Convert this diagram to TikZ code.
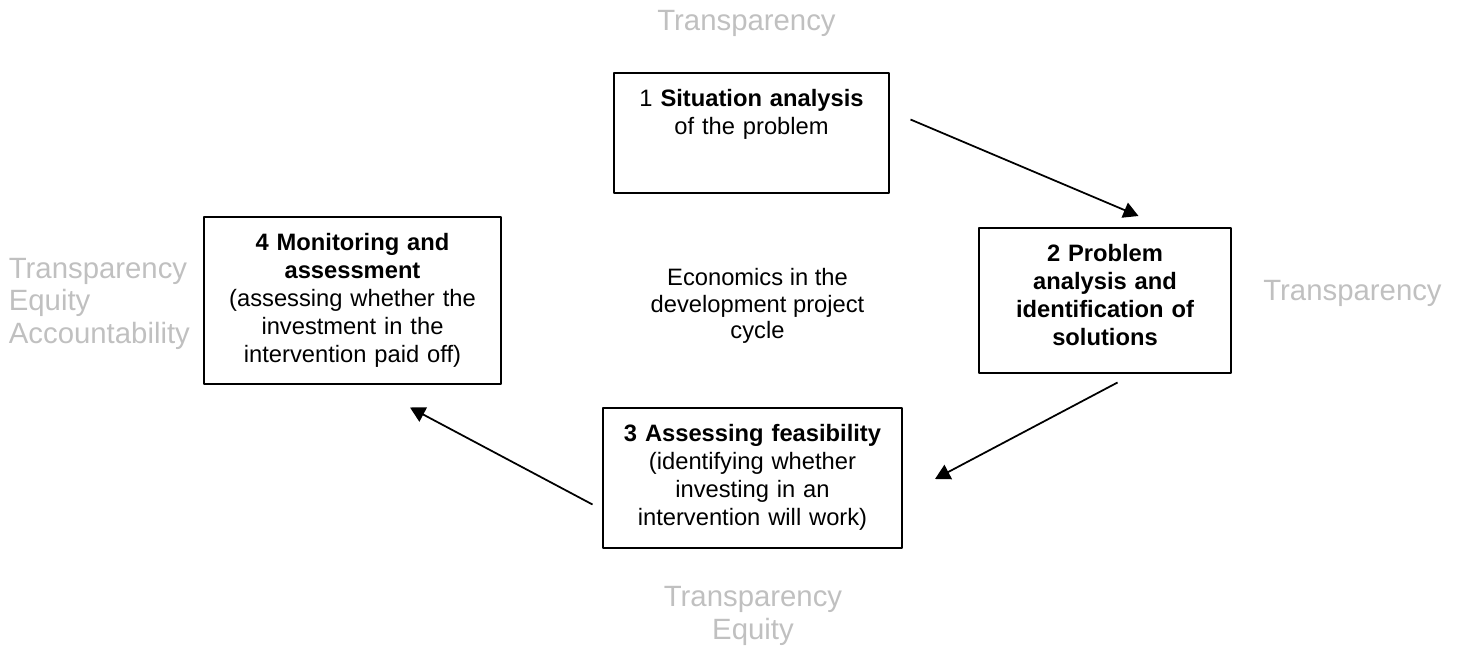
\documentclass[tikz,border=0pt]{standalone}
\usepackage{fontspec}
\setmainfont{Liberation Sans}
\usepackage{tikz}
\usetikzlibrary{arrows.meta}
\definecolor{paleGrey}{RGB}{192,192,192}

\begin{document}
\begin{tikzpicture}[line join=round,
  stage/.style={draw, line width=1.1pt, anchor=north, inner sep=0, align=center, text height=0.68cm, font=\fontsize{13.5}{15.8}\selectfont},
  value/.style={paleGrey, inner sep=0, font=\fontsize{16.7}{18.6}\selectfont},
  flow/.style={line width=1pt, -{Triangle[length=0.3cm, width=0.32cm]}}]

\useasboundingbox (0,0) rectangle (29.16,12.98);

\node (situation) at (15.03, 11.54) [stage, text width=5.5cm, text depth=1.72cm] {1 \textbf{Situation analysis}\\of the problem};
\node (problem) at (22.10, 8.44) [stage, text width=5.04cm, text depth=2.22cm] {\bfseries 2 Problem\\analysis and\\identification of\\solutions};
\node (feasibility) at (15.05, 4.84) [stage, text width=5.98cm, text depth=2.12cm] {\textbf{3 Assessing feasibility}\\(identifying whether\\investing in an\\intervention will work)};
\node (monitoring) at (7.05, 8.66) [stage, text width=5.94cm, text depth=2.66cm] {\textbf{4 Monitoring and}\\\textbf{assessment}\\(assessing whether the\\investment in the\\intervention paid off)};

\node (economics) at (15.15, 7.62) [anchor=north, inner sep=0, align=center, font=\fontsize{13.5}{15.1}\selectfont] {Economics in the\\development project\\cycle};

% values attached to each stage
\node (v_situation) at (14.93, 12.78) [value, anchor=north] {Transparency};
\node (v_problem) at (27.05, 7.38) [value, anchor=north] {Transparency};
\node (v_feasibility) at (15.06, 1.26) [value, anchor=north, align=center] {Transparency\\Equity};
\node (v_monitoring) at (0.17, 7.83) [value, anchor=north west, align=left] {Transparency\\Equity\\Accountability};

\coordinate (s1_out) at (18.21, 10.59);
\coordinate (s2_in) at (22.77, 8.66);
\coordinate (s2_out) at (22.35, 5.33);
\coordinate (s3_in) at (18.70, 3.40);
\coordinate (s3_out) at (11.85, 2.89);
\coordinate (s4_in) at (8.20, 4.83);

\draw[flow] (s1_out) -- (s2_in);
\draw[flow] (s2_out) -- (s3_in);
\draw[flow] (s3_out) -- (s4_in);

\end{tikzpicture}
\end{document}
